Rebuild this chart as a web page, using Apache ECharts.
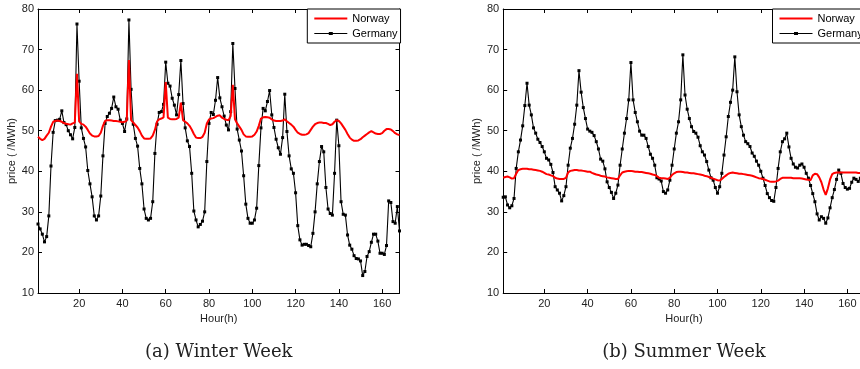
<!DOCTYPE html>
<html><head><meta charset="utf-8">
<script src="https://cdn.jsdelivr.net/npm/echarts@6/dist/echarts.min.js"></script>
<style>html,body{margin:0;padding:0;overflow:hidden;background:#fff}#c{width:880px;height:369px}</style>
</head><body><div id="c"></div><script>
const hours = [];
for (let h = 1; h <= 168; h++) hours.push(h);

const winterNorway = [48.5,48,47.7,48,48.8,49.5,51,52.2,52.4,52.5,52.4,52.2,51.9,51.7,51.6,51.5,51.8,52,64,52.3,
51.7,51.5,51,50.2,49.3,48.8,48.6,48.6,48.7,49.5,51.2,52.4,52.6,52.6,52.5,52.4,52.4,52.3,52.2,52.1,
52.2,52.5,67.4,52.6,52,51.4,50.8,49.9,48.8,48.1,48,48,48.1,48.8,50.2,52.3,52.8,53,53.3,62,
53.2,52.9,52.8,52.8,52.9,53.2,56.9,52.6,52.2,51.8,51.2,50.3,49.2,48.3,48.2,48.2,48.5,49.5,51.8,52.8,
53,53.1,53.4,53.7,53.8,53.2,52.9,52.7,52.6,53.6,61.3,52.8,51.8,51,50.2,49.1,48.6,48.5,48.5,48.6,
49,49.8,51.2,53,53.3,53.4,53.3,53.2,52.8,52.5,52.4,52.4,52.4,52.5,52.8,52.3,51.9,51.5,51,50.2,
49.5,49.2,49,49,49.1,49.4,50.2,51,51.6,51.9,52,52,51.9,51.9,51.7,51.4,51.6,52.2,52.6,52.4,
51.8,51,50.2,49.2,48.3,47.8,47.5,47.5,47.6,47.9,48.4,48.8,49.2,49.6,49.9,49.6,49.3,49.2,49.2,49.4,
50,50.4,50.4,50.3,49.9,49.4,49.1,48.9];

const winterGermany = [27,25.8,24.5,22.6,23.9,29,41.3,49.6,52.5,52.6,52.8,54.9,52,51.5,50,49,48,50.8,76.3,62.2,
50.7,48.1,46,40.2,36.9,33.7,29,28,29,33.9,43.8,51.8,53.5,54.3,55.5,58.3,55.9,55.3,52.6,51.8,
49.8,52.9,77.3,60.2,51.6,48.1,46.2,40.7,36.9,30.7,28.4,28,28.4,32.5,44.4,51.6,54.5,54.7,56.5,66.9,
61.7,61,58,56.3,53.9,58.9,67.3,56.7,50.7,47.5,46.1,39.5,30.2,28,26.3,26.9,27.7,30,42.4,51.8,
54.5,54,57.5,63.1,58.1,55.9,53.6,51.4,50.2,54.7,71.5,60.4,50.4,47.7,45,38.9,31.9,28.4,27.2,27.2,
28,30.9,41.4,50.7,55.5,54.9,57.2,59.9,53.9,50.8,47.9,45.8,44.2,48.3,59,49.8,43.8,40.6,39.5,34.7,
26.6,23.1,21.8,22,22,21.7,21.4,24.7,30,36.9,42.4,46.1,44.8,36,30.7,29.6,29.2,39.5,52.6,46.3,
32.5,29.4,29.2,24.3,21.8,20.8,19.2,18.5,18.4,17.9,14.3,15.3,19,20.2,22.5,24.5,24.5,22.8,19.8,19.8,
19.5,21.7,32.7,32.3,27.6,27.2,31.3,25.3];

const summerNorway = [38.4,38.6,38.7,38.5,38.2,38.3,39.4,40.3,40.5,40.6,40.6,40.6,40.5,40.5,40.4,40.3,40.2,40.1,39.9,39.6,
39.3,39.2,39,38.8,38.4,38.2,38.1,38.1,38.1,38.4,39.7,40.1,40.2,40.3,40.3,40.2,40.2,40.1,40,39.9,
39.9,39.6,39.4,39.2,39.1,38.9,38.8,38.7,38.5,38.4,38.3,38.2,38.1,38.1,39,39.7,39.9,40,40.1,40.1,
40,39.9,39.9,39.8,39.8,39.7,39.6,39.5,39.4,39.2,39.1,38.8,38.4,38.3,38.3,38.2,38.1,38.4,39.1,39.5,
39.8,39.9,39.9,39.8,39.7,39.7,39.6,39.5,39.5,39.4,39.3,39.2,39.1,38.9,38.8,38.6,38.4,38.2,38,37.8,
37.7,38.1,38.6,39,39.4,39.6,39.7,39.6,39.5,39.4,39.4,39.3,39.2,39.1,39,38.9,38.7,38.5,38.3,38.2,
38.1,37.9,37.7,37.5,37.4,37.4,37.5,37.7,38.1,38.4,38.4,38.4,38.4,38.4,38.3,38.3,38.3,38.3,38.2,38.1,
38,37.9,37.8,39,39.4,39.3,38.5,37.3,35.5,34.2,35.8,38,39.3,39.6,39.7,39.7,39.7,39.7,39.7,39.7,
39.7,39.7,39.7,39.7,39.6,39.6,39.6,39.6];

const summerGermany = [33.6,33.7,31.7,31,31.5,33.3,40.7,44.8,47.7,51.2,56.2,61.7,56.3,53.9,50.7,49.4,47.9,47.1,46.1,44.8,
43.2,42.8,41.7,39.7,36.2,35.4,34.6,32.7,34,36.2,41.5,45.7,48.1,51.6,56.3,64.8,59.5,55.7,53,50.4,
49.9,49.6,48.8,47.3,45.5,43,42.5,40.6,37.4,36,34.8,33.3,34.6,36.6,41.5,45.5,49.4,53,57.6,66.8,
57.6,54.5,52.2,49.9,48.9,48.9,48.1,46.1,44.2,43.2,41.5,38.4,38.1,37.6,35,34.6,35.4,37.8,41.5,45.5,
49.4,52.2,57.6,68.7,58.8,55.3,53,51,49.8,49.4,48.4,46.3,44.8,44,42.4,40.3,38.4,37.8,36,34.6,
36.2,39.5,44,48.5,53.5,57,60,68.2,59.6,53.9,51,48.9,47.3,46.8,46.1,44.5,43.7,42.5,41.5,40,
38.3,36.5,34.5,33.5,32.8,32.6,36,40.7,44.8,47.3,48,49.4,46,43.2,41.8,41,40.8,41.5,41.8,41,
39.5,38.3,36.5,34.5,32.5,29.5,28,28.8,28.4,27.2,28.5,31,33.5,35.5,38,40.3,39.5,37,36,35.6,
35.8,37.3,38.3,38,37.5,38.3,38.8,38.5];

const xTicks = [20,40,60,80,100,120,140,160];
const seriesNames = ['Norway','Germany'];
const panelTitles = ['(a) Winter Week','(b) Summer Week'];
const yLabel = 'price ( /MWh)';
const xLabel = 'Hour(h)';

const FONT = '"Liberation Sans", Arial, Helvetica, sans-serif';
const grids = [
  {left: 38, top: 9, width: 361.5, height: 284},
  {left: 503.2, top: 9, width: 361.5, height: 284}
];
const xAxes = [], yAxes = [], series = [], legends = [], graphics = [];
const panels = [[winterNorway, winterGermany],[summerNorway, summerGermany]];
const axisLine = {show: true, onZero: false, lineStyle: {color: '#000', width: 1}};
grids.forEach((g, gi) => {
  xAxes.push({gridIndex: gi, type: 'value', min: 1, max: 168, position: 'bottom',
    axisLine, splitLine: {show: false},
    axisTick: {inside: true, length: 4, customValues: xTicks, lineStyle: {color: '#000'}},
    axisLabel: {customValues: xTicks, fontSize: 11, color: '#222', margin: 5, fontFamily: FONT},
    name: xLabel, nameLocation: 'middle', nameGap: 17,
    nameTextStyle: {fontSize: 11, color: '#222', fontFamily: FONT}});
  xAxes.push({gridIndex: gi, type: 'value', min: 1, max: 168, position: 'top',
    axisLine, splitLine: {show: false},
    axisTick: {inside: true, length: 4, customValues: xTicks, lineStyle: {color: '#000'}},
    axisLabel: {show: false}});
  yAxes.push({gridIndex: gi, type: 'value', min: 10, max: 80, interval: 10, position: 'left',
    axisLine, splitLine: {show: false},
    axisTick: {inside: true, length: 4, lineStyle: {color: '#000'}},
    axisLabel: {fontSize: 11, color: '#222', margin: 4, fontFamily: FONT},
    name: yLabel, nameLocation: 'middle', nameGap: 21, nameRotate: 90,
    nameTextStyle: {fontSize: 11, color: '#222', fontFamily: FONT}});
  yAxes.push({gridIndex: gi, type: 'value', min: 10, max: 80, interval: 10, position: 'right',
    axisLine, splitLine: {show: false},
    axisTick: {inside: true, length: 4, lineStyle: {color: '#000'}},
    axisLabel: {show: false}});
  const [nor, ger] = panels[gi];
  series.push({name: seriesNames[1], type: 'line', xAxisIndex: gi*2, yAxisIndex: gi*2,
    data: hours.map((h, i) => [h, ger[i]]), symbol: 'rect', symbolSize: 3, showSymbol: true,
    lineStyle: {color: '#000', width: 1.1}, itemStyle: {color: '#000'}, color: '#000',
    z: 2, animation: false, silent: true});
  series.push({name: seriesNames[0], type: 'line', xAxisIndex: gi*2, yAxisIndex: gi*2,
    data: hours.map((h, i) => [h, nor[i]]), symbol: 'none', showSymbol: false,
    lineStyle: {color: '#ff0000', width: 2}, itemStyle: {color: '#ff0000'}, color: '#ff0000',
    z: 3, animation: false, silent: true});
  legends.push({orient: 'vertical', left: g.left + 269.3, top: 9,
    backgroundColor: '#fff', borderColor: '#000', borderWidth: 1,
    padding: [4, 3, 4, 7], itemWidth: 33, itemHeight: 11, itemGap: 4,
    textStyle: {fontSize: 11, color: '#000', fontFamily: FONT},
    data: [
      {name: seriesNames[0], icon: 'path://M0,0H33V2H0Z'},
      {name: seriesNames[1], icon: 'path://M0,1H14.5V2H0Z M14.5,0H18.5V3H14.5Z M18.5,1H33V2H18.5Z'}
    ], selectedMode: false});
  graphics.push({type: 'text', x: g.left + g.width/2, y: 352,
    style: {text: panelTitles[gi], textAlign: 'center', textVerticalAlign: 'middle',
      font: '18px "DejaVu Serif", "Liberation Serif", serif', fill: '#222'}});
});

const chart = echarts.init(document.getElementById('c'), null, {renderer: 'canvas'});
chart.setOption({
  animation: false,
  grid: grids.map(g => Object.assign({containLabel: false, outerBoundsMode: 'none', show: false}, g)),
  xAxis: xAxes, yAxis: yAxes, series, legend: legends, graphic: graphics
});
</script></body></html>
